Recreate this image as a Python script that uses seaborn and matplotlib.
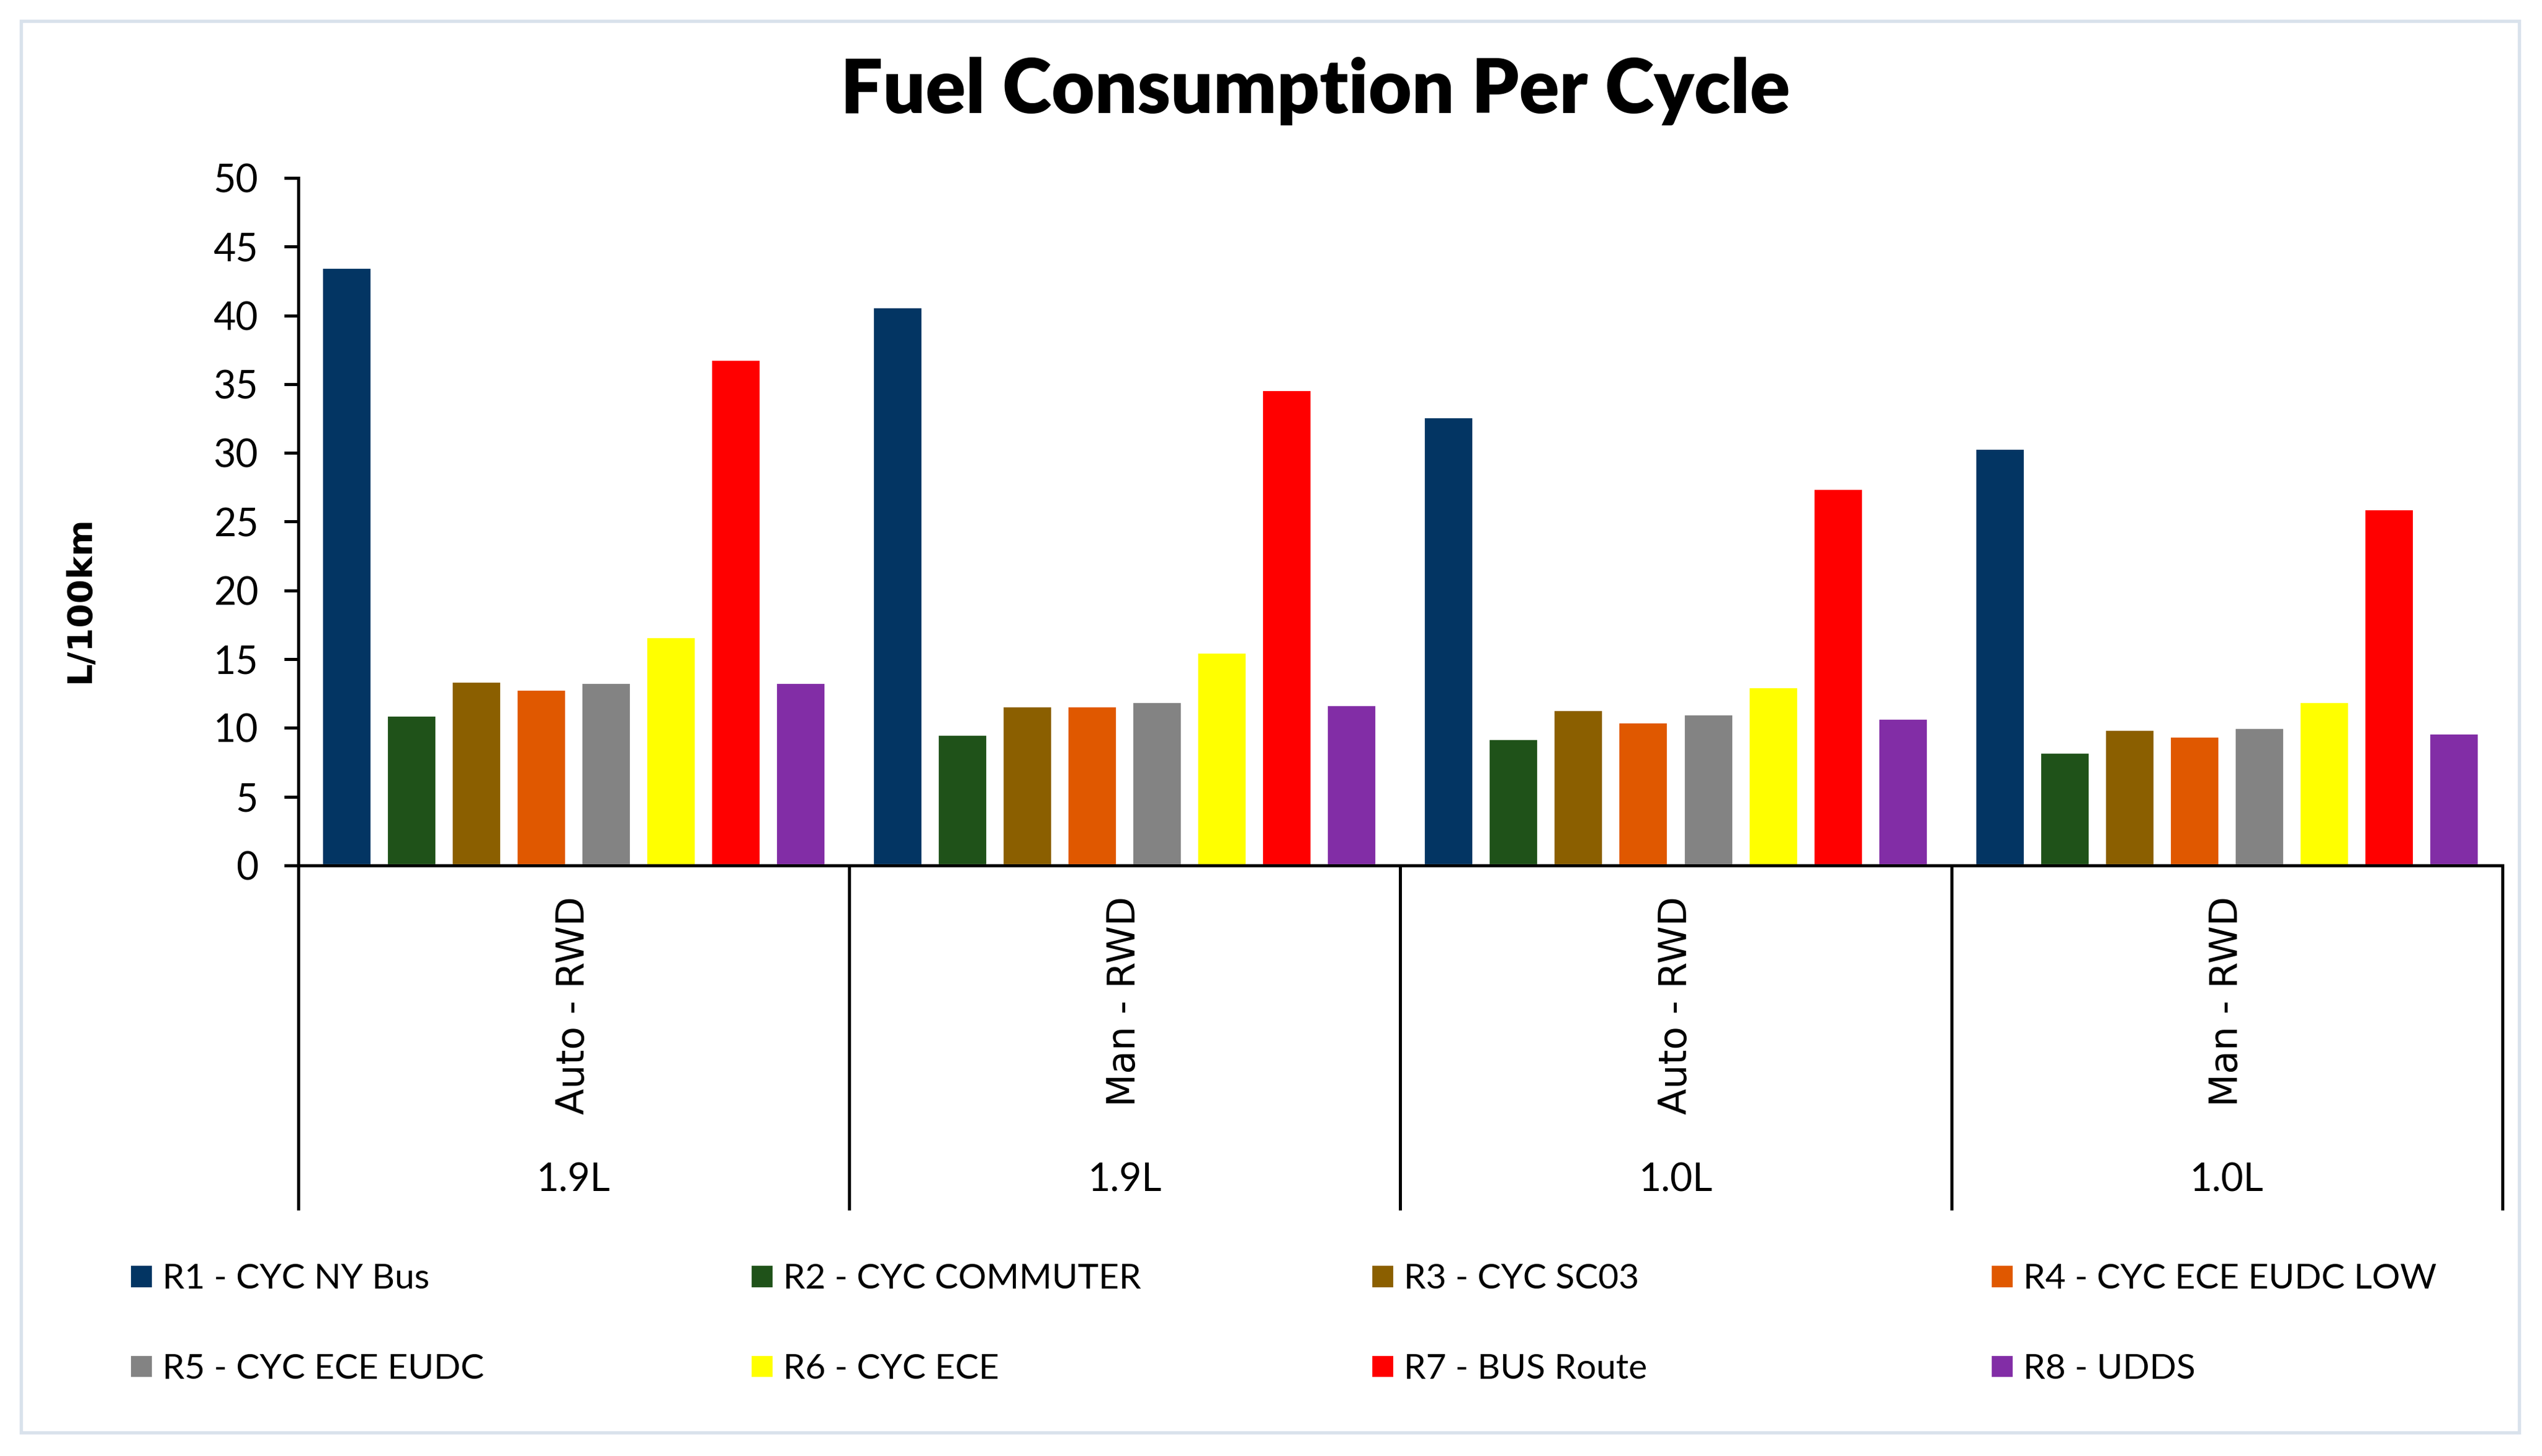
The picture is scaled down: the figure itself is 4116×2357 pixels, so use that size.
import numpy as np
import pandas as pd
import matplotlib.pyplot as plt
import matplotlib.transforms as mtransforms
from matplotlib.patches import Rectangle
import seaborn as sns

# ---------------------------------------------------------
# data (L/100km)
# ---------------------------------------------------------
transmission = ["Auto - RWD", "Man - RWD", "Auto - RWD", "Man - RWD"]
engine = ["1.9L", "1.9L", "1.0L", "1.0L"]

cycles = [
    "R1 - CYC NY Bus", "R2 - CYC COMMUTER", "R3 - CYC SC03", "R4 - CYC ECE EUDC LOW",
    "R5 - CYC ECE EUDC", "R6 - CYC ECE", "R7 - BUS Route", "R8 - UDDS",
]

r1 = [43.5, 40.6, 32.6, 30.3]
r2 = [10.9, 9.5, 9.2, 8.2]
r3 = [13.4, 11.6, 11.3, 9.9]
r4 = [12.8, 11.6, 10.4, 9.4]
r5 = [13.3, 11.9, 11.0, 10.0]
r6 = [16.6, 15.5, 13.0, 11.9]
r7 = [36.8, 34.6, 27.4, 25.9]
r8 = [13.3, 11.7, 10.7, 9.6]

colors = ["#033563", "#1F5219", "#8B5F00", "#E05800",
          "#838383", "#FFFF00", "#FF0000", "#822DA6"]

series = [r1, r2, r3, r4, r5, r6, r7, r8]
rows = []
for name, vals in zip(cycles, series):
    for g, v in enumerate(vals):
        rows.append({"group": f"{engine[g]} {transmission[g]} {g}", "cycle": name, "value": v})
df = pd.DataFrame(rows)

# ---------------------------------------------------------
# figure
# ---------------------------------------------------------
sns.set_theme(style="white")
plt.rcParams['font.family'] = ['Lato', 'DejaVu Sans']
plt.rcParams['text.color'] = 'black'
plt.rcParams['axes.labelcolor'] = 'black'
plt.rcParams['xtick.color'] = 'black'
plt.rcParams['ytick.color'] = 'black'

fig = plt.figure(figsize=(13.723, 7.857), dpi=300)
ax = fig.add_axes([0.1173, 0.4056, 0.9842 - 0.1173, 0.8778 - 0.4056])

sns.barplot(data=df, x="group", y="value", hue="cycle", hue_order=cycles,
            palette=colors, saturation=1, width=0.9417, gap=0.229,
            errorbar=None, ax=ax)

ax.set_xlim(-0.5, 3.5)
ax.set_ylim(0, 50)
ax.set_yticks(np.arange(0, 51, 5))

for side in ["top", "right"]:
    ax.spines[side].set_visible(False)
for side in ["left", "bottom"]:
    ax.spines[side].set_color("black")
    ax.spines[side].set_linewidth(1.2)

ax.tick_params(axis="y", left=True, length=5.5, width=1.2, pad=10,
               labelsize=15, colors="black", direction="out")

# inner category labels (rotated) and group separators
ax.set_xticks(range(4))
ax.set_xticklabels(transmission, rotation=90, fontsize=14.8, family="DejaVu Sans")
ax.tick_params(axis="x", which="major", length=0, pad=12, labelcolor="black")
ax.set_xticks([-0.5, 0.5, 1.5, 2.5, 3.5], minor=True)
ax.tick_params(axis="x", which="minor", bottom=True, length=134, width=1.2,
               direction="out", color="black")
ax.set_xlabel("")

# outer category labels
trans = mtransforms.blended_transform_factory(ax.transData, ax.transAxes)
for i, lab in enumerate(engine):
    ax.text(i, -0.458, lab, ha="center", va="center", fontsize=15,
            color="black", transform=trans)

ax.set_ylabel("L/100km", fontsize=13.5, fontweight="bold", family="DejaVu Sans",
              color="black")
ax.yaxis.set_label_coords(-0.0916, 0.387)

# legend: 4 columns, 2 rows (R1-R4 on top, R5-R8 below)
handles, labels = ax.get_legend_handles_labels()
ax.get_legend().remove()
xs = [0.0510, 0.2951, 0.5392, 0.7829]
for c in range(4):
    leg = fig.legend([handles[c], handles[c + 4]], [labels[c], labels[c + 4]],
                     loc="center left", bbox_to_anchor=(xs[c], 0.0905),
                     frameon=False, fontsize=13.7, handlelength=0.66,
                     handleheight=0.66, handletextpad=0.27, labelspacing=1.66,
                     borderpad=0, borderaxespad=0, labelcolor="black")

fig.text(0.5173, 0.9224, "Fuel Consumption Per Cycle", ha="center", va="baseline",
         fontsize=29, fontweight="heavy", color="black")

# light outer frame
fig.patches.append(Rectangle((0.00826, 0.0161), 0.9825, 0.9695, transform=fig.transFigure,
                             fill=False, edgecolor="#D9E2EC", linewidth=1.3))

fig.savefig("out.png", dpi=300)
